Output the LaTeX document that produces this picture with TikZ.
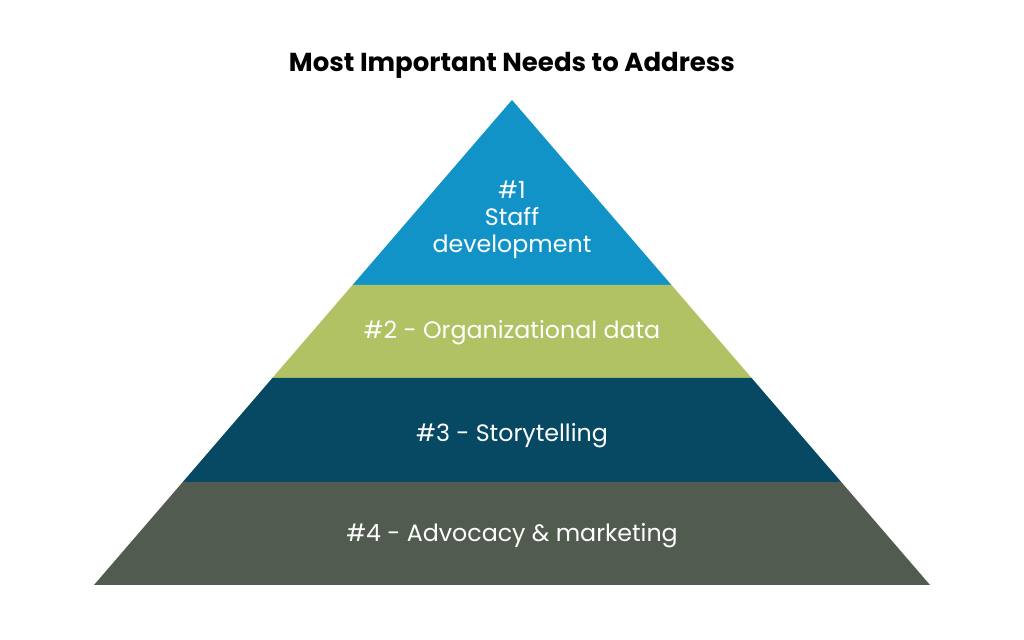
\documentclass[tikz,border=0pt]{standalone}
\usepackage{fontspec}
\setmainfont{Poppins}
\usetikzlibrary{calc}
\definecolor{tierblue}{HTML}{1193C8}
\definecolor{tiergreen}{HTML}{B0C264}
\definecolor{tierteal}{HTML}{074863}
\definecolor{tiergray}{HTML}{525B4F}
\begin{document}
\begin{tikzpicture}
		\tikzstyle{tier} = [draw=none]
		\tikzstyle{label} = [text=white, align=center, font=\fontsize{13.5}{16.5}\selectfont]
		\useasboundingbox (0,0) rectangle (20.48,12.8);
		\coordinate (apex) at (10.24,10.80);
		\coordinate (bl) at (1.88,1.10);
		\coordinate (br) at (18.60,1.10);
		% tier boundaries
		\coordinate (l1) at ($(apex)!0.3814!(bl)$);
		\coordinate (r1) at ($(apex)!0.3814!(br)$);
		\coordinate (l2) at ($(apex)!0.5732!(bl)$);
		\coordinate (r2) at ($(apex)!0.5732!(br)$);
		\coordinate (l3) at ($(apex)!0.7876!(bl)$);
		\coordinate (r3) at ($(apex)!0.7876!(br)$);
		\fill[tier, tierblue] (apex) -- (r1) -- (l1) -- cycle;
		\fill[tier, tiergreen] (l1) -- (r1) -- (r2) -- (l2) -- cycle;
		\fill[tier, tierteal] (l2) -- (r2) -- (r3) -- (l3) -- cycle;
		\fill[tier, tiergray] (l3) -- (r3) -- (br) -- (bl) -- cycle;
		\node[font=\fontsize{14.8}{17}\selectfont\bfseries] (title) at (10.24,11.49) {Most Important Needs to Address};
		\node[label] (staff) at (10.24,8.40) {\#1\\[-1pt]Staff\\[-1pt]development};
		\node[label] (data) at (10.24,6.14) {\#2 - Organizational data};
		\node[label] (story) at (10.24,4.08) {\#3 - Storytelling};
		\node[label] (advocacy) at (10.24,2.08) {\#4 - Advocacy \& marketing};
		\end{tikzpicture}
\end{document}
